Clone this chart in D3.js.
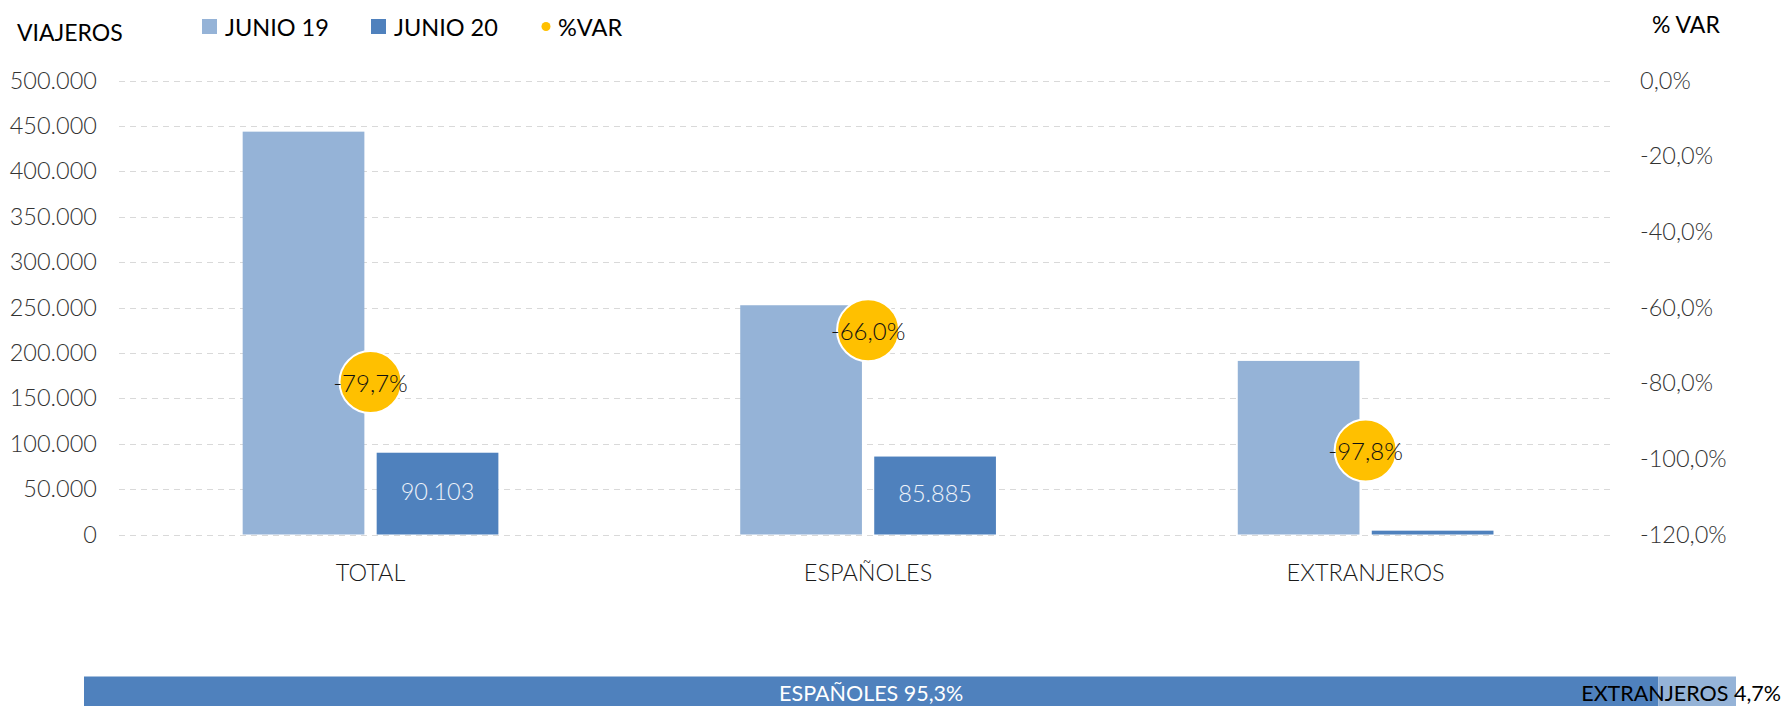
<!DOCTYPE html>
<html><head><meta charset="utf-8">
<script src="https://cdn.jsdelivr.net/npm/d3@7"></script>
<style>
html,body{margin:0;padding:0;background:#fff;}
svg{display:block;font-family:Lato,"Open Sans",sans-serif;}
</style></head>
<body><svg id="c" width="1783" height="706"></svg>
<script>
const categories = ["TOTAL", "ESPAÑOLES", "EXTRANJEROS"];
const junio19 = [443857, 252603, 191254];
const junio20 = [90103, 85885, 4218];
const pctVar = [-79.7, -66.0, -97.8];
const leftTicks = [0, 50000, 100000, 150000, 200000, 250000, 300000, 350000, 400000, 450000, 500000];
const rightTicks = [0, -20, -40, -60, -80, -100, -120];
const shareLabels = ["ESPAÑOLES", "EXTRANJEROS"];
const shareValues = [95.3, 4.7];
const seriesNames = ["JUNIO 19", "JUNIO 20", "%VAR"];

(function () {
const C19 = "#95b3d7", C20 = "#4f81bd", CY = "#ffc000";
const loc = d3.formatLocale({decimal: ",", thousands: ".", grouping: [3], currency: ["", "€"], minus: "-"});
const fmtN = loc.format(",d");
const fmtP = v => loc.format(".1f")(v) + "%";
const FW = 300;

const svg = d3.select("#c");
const pTop = 80.7, pBottom = 534.5, pLeft = 121.75, pRight = 1614.4;

const x = d3.scaleBand().domain(categories).range([pLeft, pRight]).paddingInner(0).paddingOuter(0);
const y = d3.scaleLinear().domain([0, 500000]).range([pBottom, pTop]);
const y2 = d3.scaleLinear().domain([-120, 0]).range([pBottom, pTop]);
const barW = 121.7, gap = 12.3;

// gridlines
svg.append("g").selectAll("line").data(leftTicks).join("line")
  .attr("x1", 119).attr("x2", 1615)
  .attr("y1", d => Math.round(y(d)) + 0.5).attr("y2", d => Math.round(y(d)) + 0.5)
  .attr("stroke", "#d9d9d9").attr("stroke-width", 1.2).attr("stroke-dasharray", "6,5");

// left axis
const gl = svg.append("g").attr("transform", "translate(97,0)")
  .call(d3.axisLeft(y).tickValues(leftTicks).tickFormat(fmtN).tickSize(0).tickPadding(0));
gl.select(".domain").remove();
gl.selectAll("text").attr("font-family", "Lato").attr("font-weight", FW).attr("font-size", 23.5).attr("fill", "#333");

// right axis
const gr = svg.append("g").attr("transform", "translate(1640,0)")
  .call(d3.axisRight(y2).tickValues(rightTicks).tickFormat(fmtP).tickSize(0).tickPadding(0));
gr.select(".domain").remove();
gr.selectAll("text").attr("font-family", "Lato").attr("font-weight", FW).attr("font-size", 23.5).attr("fill", "#333");

// bars
const cx = c => x(c) + x.bandwidth() / 2;
svg.append("g").selectAll("rect").data(categories).join("rect")
  .attr("x", c => cx(c) - gap / 2 - barW).attr("width", barW)
  .attr("y", (c, i) => y(junio19[i])).attr("height", (c, i) => y(0) - y(junio19[i]))
  .attr("fill", C19);
svg.append("g").selectAll("rect").data(categories).join("rect")
  .attr("x", c => cx(c) + gap / 2).attr("width", barW)
  .attr("y", (c, i) => y(junio20[i])).attr("height", (c, i) => y(0) - y(junio20[i]))
  .attr("fill", C20);

// value labels in JUNIO 20 bars
svg.append("g").selectAll("text").data(categories.slice(0, 2)).join("text")
  .attr("x", c => cx(c) + gap / 2 + barW / 2)
  .attr("y", (c, i) => (y(junio20[i]) + y(0)) / 2 - 3)
  .attr("dominant-baseline", "central").attr("text-anchor", "middle")
  .attr("font-weight", FW).attr("font-size", 23.5).attr("fill", "#eef3fa")
  .text((c, i) => fmtN(junio20[i]));

// category labels
svg.append("g").selectAll("text").data(categories).join("text")
  .attr("x", c => cx(c)).attr("y", 572)
  .attr("dominant-baseline", "central").attr("text-anchor", "middle")
  .attr("font-weight", FW).attr("font-size", 23.5).attr("fill", "#1a1a1a")
  .text(c => c);

// %VAR bubbles
svg.append("g").selectAll("circle").data(categories).join("circle")
  .attr("cx", c => cx(c)).attr("cy", (c, i) => y2(pctVar[i]))
  .attr("r", 31).attr("fill", CY).attr("stroke", "#fff").attr("stroke-width", 2);
svg.append("g").selectAll("text").data(categories).join("text")
  .attr("x", c => cx(c)).attr("y", (c, i) => y2(pctVar[i]))
  .attr("dominant-baseline", "central").attr("text-anchor", "middle")
  .attr("font-weight", FW).attr("font-size", 24).attr("fill", "#111")
  .text((c, i) => fmtP(pctVar[i]));

// axis titles
svg.append("text").attr("x", 17).attr("y", 32).attr("dominant-baseline", "central")
  .attr("font-size", 23).attr("fill", "#000").text("VIAJEROS");
svg.append("text").attr("x", 1652).attr("y", 24).attr("dominant-baseline", "central")
  .attr("font-size", 23).attr("fill", "#000").text("% VAR");

// legend
const lg = svg.append("g");
const lx = [202, 371, 542];
lg.append("rect").attr("x", lx[0]).attr("y", 19).attr("width", 15).attr("height", 15).attr("fill", C19);
lg.append("rect").attr("x", lx[1]).attr("y", 19).attr("width", 15).attr("height", 15).attr("fill", C20);
lg.append("circle").attr("cx", lx[2] + 4).attr("cy", 26.5).attr("r", 4.5).attr("fill", CY);
lg.selectAll("text").data(seriesNames).join("text")
  .attr("x", (d, i) => i < 2 ? lx[i] + 23 : lx[i] + 16).attr("y", 26.5)
  .attr("dominant-baseline", "central").attr("font-size", 23.5).attr("fill", "#000")
  .text(d => d);

// share bar
const sx = d3.scaleLinear().domain([0, 100]).range([84, 1736]);
const s0 = shareValues[0];
svg.append("rect").attr("x", sx(0)).attr("y", 676.5).attr("width", sx(s0) - sx(0)).attr("height", 40).attr("fill", C20);
svg.append("rect").attr("x", sx(s0)).attr("y", 676.5).attr("width", sx(100) - sx(s0)).attr("height", 40).attr("fill", C19);
svg.append("text").attr("x", (sx(0) + sx(s0)) / 2).attr("y", 693)
  .attr("dominant-baseline", "central").attr("text-anchor", "middle")
  .attr("font-size", 21.5).attr("fill", "#fff")
  .text(shareLabels[0] + " " + loc.format(".1f")(shareValues[0]) + "%");
svg.append("text").attr("x", 1781).attr("y", 693)
  .attr("dominant-baseline", "central").attr("text-anchor", "end")
  .attr("font-size", 21.5).attr("fill", "#000")
  .text(shareLabels[1] + " " + loc.format(".1f")(shareValues[1]) + "%");
})();
</script></body></html>
